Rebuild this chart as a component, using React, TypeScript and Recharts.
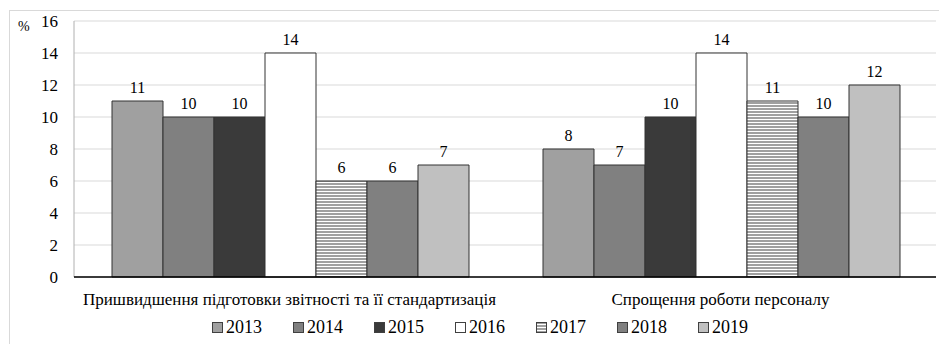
import React from "react";
import { BarChart, Bar, XAxis, YAxis, CartesianGrid, LabelList, Legend } from "recharts";

const categories = [
  "Пришвидшення підготовки звітності та її стандартизація",
  "Спрощення роботи персоналу",
];
const years = ["2013", "2014", "2015", "2016", "2017", "2018", "2019"];
const values2013 = [11, 8];
const values2014 = [10, 7];
const values2015 = [10, 10];
const values2016 = [14, 14];
const values2017 = [6, 11];
const values2018 = [6, 10];
const values2019 = [7, 12];
const yTicks = [0, 2, 4, 6, 8, 10, 12, 14, 16];

const seriesValues = [values2013, values2014, values2015, values2016, values2017, values2018, values2019];
const fills = ["#a0a0a0", "#808080", "#3a3a3a", "#ffffff", "url(#hatch2017)", "#808080", "#c0c0c0"];

const data = categories.map((name, i) => {
  const row: Record<string, string | number> = { name };
  years.forEach((y, k) => {
    row[y] = seriesValues[k][i];
  });
  return row;
});

const FONT = "'Liberation Serif', 'DejaVu Serif', serif";

const LegendContent = () => (
  <div style={{ display: "flex", fontFamily: FONT, fontSize: 18, color: "#000", lineHeight: "20px" }}>
    {years.map((y, k) => (
      <div key={y} style={{ display: "flex", alignItems: "center", width: 81 }}>
        <svg width={11} height={11} style={{ marginRight: 3 }}>
          {k === 4 && (
            <defs>
              <pattern id="hatchLegend" width={4} height={3} patternUnits="userSpaceOnUse">
                <rect width={4} height={3} fill="#a0a0a0" />
                <rect y={2} width={4} height={1} fill="#ffffff" />
              </pattern>
            </defs>
          )}
          <rect
            x={0.5}
            y={0.5}
            width={10}
            height={10}
            fill={k === 4 ? "url(#hatchLegend)" : fills[k]}
            stroke="#404040"
            strokeWidth={1}
          />
        </svg>
        <span>{y}</span>
      </div>
    ))}
  </div>
);

export default function App() {
  return (
    <div style={{ position: "absolute", left: 0, top: 0, width: 939, height: 344, background: "#fff", fontFamily: FONT }}>
      <div
        style={{
          position: "absolute",
          left: 9,
          top: 10,
          width: 940,
          height: 340,
          border: "1px solid #d9d9d9",
          boxSizing: "border-box",
        }}
      />
      <div style={{ position: "absolute", left: 18, top: 19, fontFamily: FONT, fontSize: 14, lineHeight: "16px" }}>%</div>
      <BarChart
        width={939}
        height={344}
        data={data}
        margin={{ top: 21, right: 3, bottom: 37, left: 10 }}
        barCategoryGap={38}
        barGap={0}
        style={{ fontFamily: FONT }}
      >
        <defs>
          <pattern id="hatch2017" width={4} height={3} patternUnits="userSpaceOnUse">
            <rect width={4} height={3} fill="#a0a0a0" />
            <rect y={2} width={4} height={1} fill="#ffffff" />
          </pattern>
        </defs>
        <CartesianGrid vertical={false} stroke="#d9d9d9" strokeWidth={1} />
        <YAxis
          domain={[0, 16]}
          ticks={yTicks}
          width={64}
          axisLine={{ stroke: "#b0b0b0" }}
          tickLine={false}
          tickMargin={10}
          tick={{ fontFamily: FONT, fontSize: 17, fill: "#000" }}
          interval={0}
        />
        <XAxis
          dataKey="name"
          height={30}
          axisLine={{ stroke: "#000", strokeWidth: 1.5 }}
          tickLine={false}
          tickMargin={10}
          tick={{ fontFamily: FONT, fontSize: 17, fill: "#000" }}
          interval={0}
        />
        <Legend
          layout="horizontal"
          verticalAlign="middle"
          align="center"
          content={<LegendContent />}
          wrapperStyle={{ position: "absolute", left: 212, top: 317, width: 600 }}
        />
        {years.map((y, k) => (
          <Bar
            key={y}
            dataKey={y}
            fill={fills[k]}
            stroke="#333333"
            strokeWidth={1}
            isAnimationActive={false}
          >
            <LabelList
              dataKey={y}
              position="top"
              offset={8}
              style={{ fontFamily: FONT, fontSize: 16, fill: "#000" }}
            />
          </Bar>
        ))}
      </BarChart>
    </div>
  );
}
